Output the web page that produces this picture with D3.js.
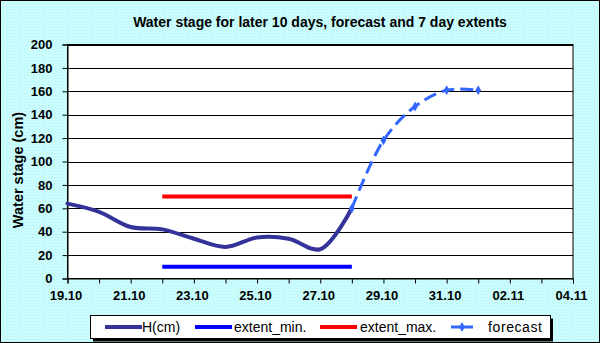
<!DOCTYPE html>
<html>
<head>
<meta charset="utf-8">
<script src="https://cdn.jsdelivr.net/npm/d3@7"></script>
<style>
  body { margin: 0; }
  svg { display: block; font-family: Arial, "Liberation Sans", sans-serif; }
</style>
</head>
<body>
<svg id="chart" width="600" height="343"></svg>
<script>
// observed stage
const hDates = ['2009-10-19', '2009-10-20', '2009-10-21', '2009-10-22', '2009-10-23',
  '2009-10-24', '2009-10-25', '2009-10-26', '2009-10-27', '2009-10-28'];
const hValues = [64, 57, 44, 42, 34, 27, 35, 34, 25, 60];

// forecast
const fcDates = ['2009-10-28', '2009-10-29', '2009-10-30', '2009-10-31', '2009-11-01'];
const fcValues = [60, 118, 147, 161, 161];

// 7 day extents
const extDates = ['2009-10-22', '2009-10-28'];
const extMin = [10, 10];
const extMax = [70, 70];

const yTicks = [0, 20, 40, 60, 80, 100, 120, 140, 160, 180, 200];

const parse = d3.timeParse('%Y-%m-%d');
const fmt = d3.timeFormat('%d.%m');

const W = 600, H = 343;
const margin = { top: 44.5, right: 27, bottom: 64.5, left: 67.5 };

const svg = d3.select('#chart');

// dotted cyan background
const defs = svg.append('defs');
const pat = defs.append('pattern')
  .attr('id', 'dots')
  .attr('width', 3)
  .attr('height', 3)
  .attr('patternUnits', 'userSpaceOnUse');
pat.append('rect').attr('width', 3).attr('height', 3).attr('fill', '#ccffff');
pat.append('rect').attr('x', 0).attr('y', 0).attr('width', 1).attr('height', 1).attr('fill', '#b4ecec');
pat.append('rect').attr('x', 1.5).attr('y', 1.5).attr('width', 1).attr('height', 1).attr('fill', '#bff4f4');

svg.append('rect')
  .attr('x', 0.5).attr('y', 0.5)
  .attr('width', W - 1).attr('height', H - 1)
  .attr('fill', 'url(#dots)')
  .attr('stroke', '#000')
  .attr('stroke-width', 1);

const x = d3.scaleTime()
  .domain([parse('2009-10-19'), parse('2009-11-04')])
  .range([margin.left, W - margin.right]);

const y = d3.scaleLinear()
  .domain([0, 200])
  .range([H - margin.bottom, margin.top]);

// plot area
svg.append('rect')
  .attr('x', margin.left)
  .attr('y', margin.top)
  .attr('width', W - margin.left - margin.right)
  .attr('height', H - margin.top - margin.bottom)
  .attr('fill', '#fff')
  .attr('stroke', '#000')
  .attr('stroke-width', 1);

// gridlines
svg.append('g')
  .selectAll('line')
  .data(yTicks.slice(1))
  .enter()
  .append('line')
  .attr('x1', margin.left)
  .attr('x2', W - margin.right)
  .attr('y1', d => Math.round(y(d)) + 0.5)
  .attr('y2', d => Math.round(y(d)) + 0.5)
  .attr('stroke', '#000')
  .attr('stroke-width', 1);

// y axis
const yAxis = svg.append('g')
  .attr('transform', `translate(${margin.left},0)`)
  .call(d3.axisLeft(y).tickValues(yTicks).tickSize(5).tickPadding(10));
yAxis.select('.domain').attr('stroke', '#000');
yAxis.selectAll('text')
  .attr('font-size', 13)
  .attr('font-weight', 'bold')
  .attr('fill', '#000');

// x axis: minor day ticks + labels every 2 days
const dayTicks = d3.timeDay.range(x.domain()[0], d3.timeDay.offset(x.domain()[1], 1));
const labelTicks = d3.timeDay.range(x.domain()[0], d3.timeDay.offset(x.domain()[1], 1), 2);

const xAxis = svg.append('g')
  .attr('transform', `translate(0,${H - margin.bottom})`)
  .call(d3.axisBottom(x).tickValues(dayTicks).tickSize(5).tickFormat(''));
xAxis.select('.domain').attr('stroke', '#000');

const xLabels = svg.append('g')
  .attr('transform', `translate(-2,${H - margin.bottom})`)
  .call(d3.axisBottom(x).tickValues(labelTicks).tickSize(0).tickPadding(12).tickFormat(fmt));
xLabels.select('.domain').remove();
xLabels.selectAll('text')
  .attr('font-size', 13)
  .attr('font-weight', 'bold')
  .attr('fill', '#000');

// y label
svg.append('text')
  .attr('transform', `translate(23,170) rotate(-90)`)
  .attr('text-anchor', 'middle')
  .attr('font-size', 14.5)
  .attr('font-weight', 'bold')
  .text('Water stage (cm)');

// title
svg.append('text')
  .attr('x', 320)
  .attr('y', 26.5)
  .attr('text-anchor', 'middle')
  .attr('font-size', 14)
  .attr('font-weight', 'bold')
  .text('Water stage for later 10 days, forecast and 7 day  extents');

// lines
const hData = hDates.map((d, i) => ({ date: parse(d), value: hValues[i] }));
const fcData = fcDates.map((d, i) => ({ date: parse(d), value: fcValues[i] }));
const minData = extDates.map((d, i) => ({ date: parse(d), value: extMin[i] }));
const maxData = extDates.map((d, i) => ({ date: parse(d), value: extMax[i] }));

const smooth = d3.line()
  .curve(d3.curveCatmullRom.alpha(0.5))
  .x(d => x(d.date))
  .y(d => y(d.value));

const straight = d3.line()
  .x(d => x(d.date))
  .y(d => y(d.value));

svg.append('path')
  .attr('d', straight(minData))
  .attr('fill', 'none')
  .attr('stroke', '#0000ff')
  .attr('stroke-width', 4);

svg.append('path')
  .attr('d', straight(maxData))
  .attr('fill', 'none')
  .attr('stroke', '#ff0000')
  .attr('stroke-width', 4);

svg.append('path')
  .attr('d', smooth(hData))
  .attr('fill', 'none')
  .attr('stroke', '#333399')
  .attr('stroke-width', 4)
  .attr('stroke-linecap', 'round');

svg.append('path')
  .attr('d', smooth(fcData))
  .attr('fill', 'none')
  .attr('stroke', '#3366ff')
  .attr('stroke-width', 3)
  .attr('stroke-dasharray', '13,6');

const diamond = d3.symbol().type(d3.symbolDiamond).size(28);
svg.append('g')
  .selectAll('path')
  .data(fcData)
  .enter()
  .append('path')
  .attr('transform', d => `translate(${x(d.date)},${y(d.value)})`)
  .attr('d', diamond)
  .attr('fill', '#3366ff');

// legend
const legend = svg.append('g');
legend.append('rect')
  .attr('x', 93).attr('y', 318.5)
  .attr('width', 460).attr('height', 23)
  .attr('fill', '#000');
legend.append('rect')
  .attr('x', 90.5).attr('y', 315.5)
  .attr('width', 460).attr('height', 23)
  .attr('fill', '#fff')
  .attr('stroke', '#000')
  .attr('stroke-width', 1);

const legendItems = [
  { label: 'H(cm)', color: '#333399', x1: 105, x2: 142, tx: 142, dash: null },
  { label: 'extent_min.', color: '#0000ff', x1: 195, x2: 232, tx: 234, dash: null },
  { label: 'extent_max.', color: '#ff0000', x1: 320, x2: 357, tx: 360, dash: null },
  { label: 'forecast', color: '#3366ff', x1: 451, x2: 473, tx: 488, dash: true },
];

const li = legend.selectAll('g.item')
  .data(legendItems)
  .enter()
  .append('g')
  .classed('item', true);

li.append('line')
  .attr('x1', d => d.x1)
  .attr('x2', d => d.x2)
  .attr('y1', 327)
  .attr('y2', 327)
  .attr('stroke', d => d.color)
  .attr('stroke-width', d => d.dash ? 3 : 4);

li.filter(d => d.dash)
  .append('path')
  .attr('transform', d => `translate(${(d.x1 + d.x2) / 2},327)`)
  .attr('d', diamond)
  .attr('fill', d => d.color);

li.append('text')
  .attr('x', d => d.tx)
  .attr('y', 331.5)
  .attr('font-size', 14)
  .attr('fill', '#000')
  .attr('letter-spacing', d => d.dash ? 0.6 : 0)
  .text(d => d.label);
</script>
</body>
</html>
